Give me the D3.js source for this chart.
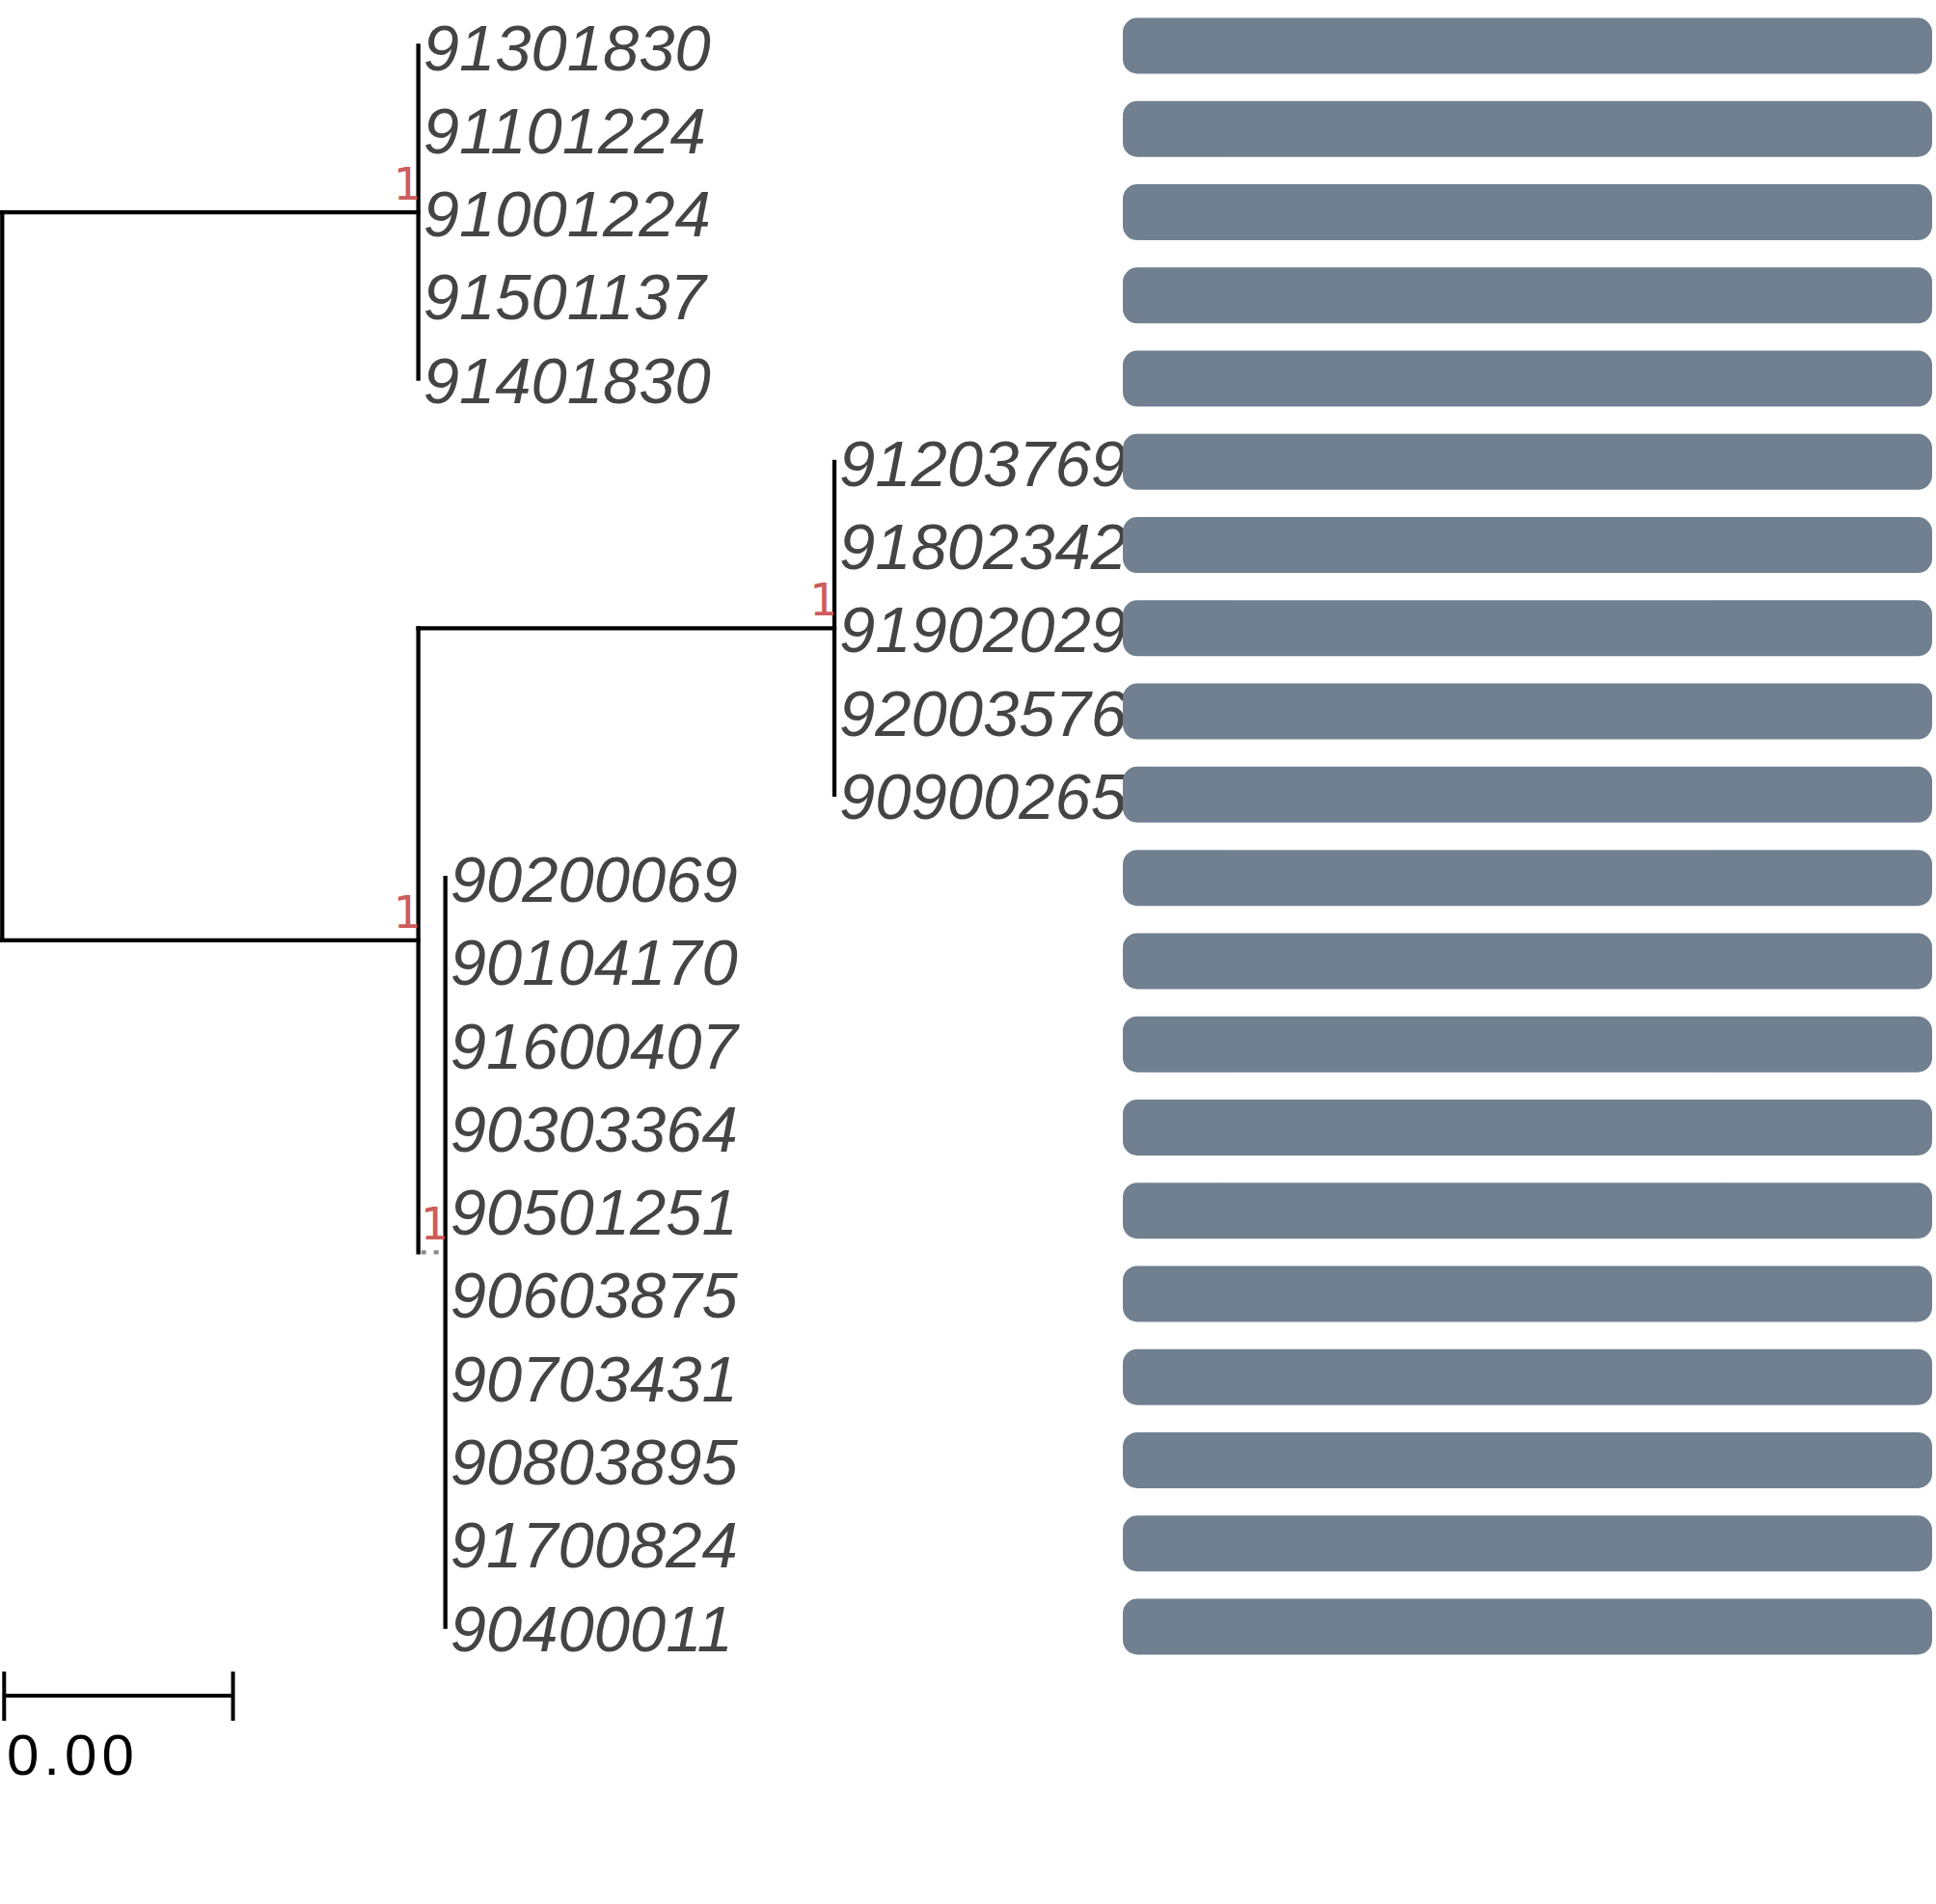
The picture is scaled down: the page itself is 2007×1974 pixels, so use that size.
<!DOCTYPE html>
<html>
<head>
<meta charset="utf-8">
<script src="https://cdn.jsdelivr.net/npm/d3@7"></script>
<style>
  body { margin: 0; background: #fff; }
  svg { display: block; }
</style>
</head>
<body>
<svg id="chart" width="2007" height="1974"></svg>
<script>
// tips of each clade, top to bottom
var cladeA = ["91301830", "91101224", "91001224", "91501137", "91401830"];
var cladeB = ["91203769", "91802342", "91902029", "92003576", "90900265"];
var cladeC = ["90200069", "90104170", "91600407", "90303364", "90501251",
              "90603875", "90703431", "90803895", "91700824", "90400011"];

// internal nodes: branch length from parent and support value
var nodeNames = ["A", "BC", "B", "C"];
var nodeLengths = [1, 1, 1, 0.065];
var nodeSupport = [1, 1, 1, 1];

// bar values per tip (all full)
var barValues = [1, 1, 1, 1, 1, 1, 1, 1, 1, 1, 1, 1, 1, 1, 1, 1, 1, 1, 1, 1];

var scaleBarLength = 0.55;
var scaleBarLabel = "0.00";

function tipNodes(list) {
	return list.map(function(n) { return {name: n, len: 0}; });
}
function inner(name, children) {
	var i = nodeNames.indexOf(name);
	return {name: name, len: nodeLengths[i], support: nodeSupport[i], children: children};
}

var treeData = {name: "root", len: 0, children: [
	inner("A", tipNodes(cladeA)),
	inner("BC", [inner("B", tipNodes(cladeB)), inner("C", tipNodes(cladeC))])
]};

var root = d3.hierarchy(treeData);
root.eachBefore(function(d) {
	d.dist = d.parent ? d.parent.dist + d.data.len : 0;
});
var leaves = root.leaves();
leaves.forEach(function(d, i) { d.row = i; });
root.eachAfter(function(d) {
	if (d.children) d.row = d3.mean(d.children, function(c) { return c.row; });
});

var svg = d3.select("#chart");

var x = d3.scaleLinear().domain([0, 2]).range([2.3, 865]);
var y = d3.scaleLinear().domain([0, leaves.length - 1]).range([47.5, 1686.5]);
var xBar = d3.scaleLinear().domain([0, 1]).range([1164, 2003]);

var g = svg.append("g");

// horizontal branches (very short ones come out dotted grey)
var branches = root.descendants().filter(function(d) { return d.parent && d.data.len > 0; });
g.selectAll("line.hbranch")
	.data(branches)
	.enter()
	.append("line")
	.attr("class", "hbranch")
	.attr("x1", function(d) { return x(d.parent.dist); })
	.attr("x2", function(d) { return x(d.dist); })
	.attr("y1", function(d) { return y(d.row); })
	.attr("y2", function(d) { return y(d.row); })
	.style("stroke", function(d) { return d.data.len < 0.1 ? "#8a8a8a" : "#000"; })
	.style("stroke-width", 4.3)
	.style("stroke-dasharray", function(d) { return d.data.len < 0.1 ? "5,8" : null; })
	.style("stroke-dashoffset", function(d) { return d.data.len < 0.1 ? 10 : null; })
	.style("stroke-linecap", function(d) { return d.data.len < 0.1 ? "butt" : "square"; });

// vertical connectors
var internals = root.descendants().filter(function(d) { return d.children; });
g.selectAll("line.vbranch")
	.data(internals)
	.enter()
	.append("line")
	.attr("class", "vbranch")
	.attr("x1", function(d) { return x(d.dist); })
	.attr("x2", function(d) { return x(d.dist); })
	.attr("y1", function(d) { return y(d.children[0].row); })
	.attr("y2", function(d) { return y(d.children[d.children.length - 1].row); })
	.style("stroke", "#000")
	.style("stroke-width", 4.3)
	.style("stroke-linecap", "square");

// support labels
g.selectAll("text.support")
	.data(internals.filter(function(d) { return d.parent; }))
	.enter()
	.append("text")
	.attr("class", "support")
	.attr("x", function(d) { return x(d.dist) + 2; })
	.attr("y", function(d) { return y(d.row) - 13; })
	.attr("text-anchor", "end")
	.style("font-family", "'DejaVu Sans Mono', monospace")
	.style("font-size", "47px")
	.style("fill", "#cd5c5c")
	.text(function(d) { return d.data.support; });

// tip labels
g.selectAll("text.tip")
	.data(leaves)
	.enter()
	.append("text")
	.attr("class", "tip")
	.attr("x", function(d) { return x(d.dist) + 5; })
	.attr("y", function(d) { return y(d.row) + 25; })
	.style("font-family", "'Liberation Sans', Arial, sans-serif")
	.style("font-style", "italic")
	.style("font-size", "67px")
	.style("fill", "#444444")
	.text(function(d) { return d.data.name; });

// bars
svg.append("g").selectAll("rect")
	.data(leaves)
	.enter()
	.append("rect")
	.attr("x", xBar(0))
	.attr("y", function(d) { return y(d.row) - 29; })
	.attr("width", function(d) { return xBar(barValues[d.row]) - xBar(0); })
	.attr("height", 58)
	.attr("rx", 15)
	.attr("ry", 15)
	.style("fill", "#708090");

// scale bar
var sb = svg.append("g");
var sbY = 1758;
var sbX0 = x(0) + 2, sbX1 = x(scaleBarLength) + 2;
sb.append("line")
	.attr("x1", sbX0).attr("x2", sbX1)
	.attr("y1", sbY).attr("y2", sbY)
	.style("stroke", "#000").style("stroke-width", 4);
[sbX0, sbX1].forEach(function(px) {
	sb.append("line")
		.attr("x1", px).attr("x2", px)
		.attr("y1", sbY - 25).attr("y2", sbY + 26)
		.style("stroke", "#000").style("stroke-width", 4);
});
sb.append("text")
	.attr("x", 7)
	.attr("y", 1840)
	.style("font-family", "'Liberation Sans', Arial, sans-serif")
	.style("font-size", "60px")
	.style("letter-spacing", "5px")
	.style("fill", "#000")
	.text(scaleBarLabel);
</script>
</body>
</html>
